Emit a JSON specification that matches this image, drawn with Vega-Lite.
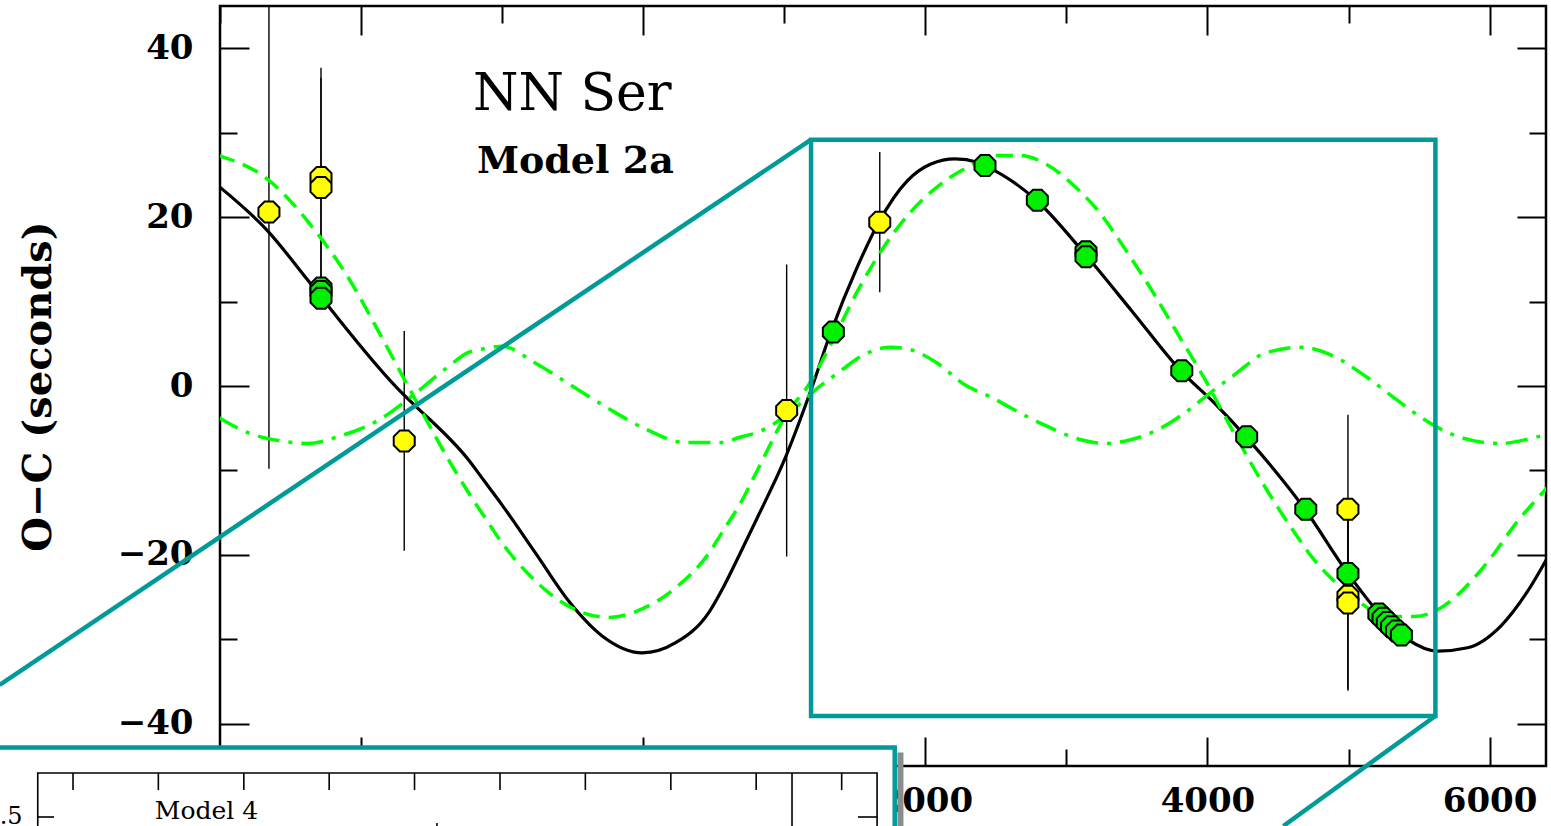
{
  "$schema": "https://vega.github.io/schema/vega-lite/v6.json",
  "width": 1326,
  "height": 760,
  "autosize": {"type": "none"},
  "padding": {"left": 220, "top": 6, "right": 5, "bottom": 60},
  "background": "white",
  "view": {"stroke": "black", "strokeWidth": 2.5, "fill": "white"},
  "config": {"axis": {"grid": false, "domain": false}},
  "datasets": {
    "black": [
      {"x": -3012, "y": 23.7}, {"x": -2664, "y": 18.4}, {"x": -2381, "y": 12.6},
      {"x": -2230, "y": 9.4}, {"x": -1700, "y": -1.0}, {"x": -1625, "y": -2.2}, {"x": -1236, "y": -8.8},
      {"x": -1129, "y": -11.2}, {"x": -1000, "y": -14.1}, {"x": -763, "y": -19.8}, {"x": -527, "y": -25.5},
      {"x": -291, "y": -29.6}, {"x": -7, "y": -31.6}, {"x": 230, "y": -30.4}, {"x": 466, "y": -26.8},
      {"x": 572, "y": -23.7}, {"x": 679, "y": -20.1}, {"x": 809, "y": -15.6}, {"x": 1010, "y": -8.4},
      {"x": 1187, "y": -0.6}, {"x": 1329, "y": 6.3}, {"x": 1518, "y": 14.1}, {"x": 1670, "y": 19.4},
      {"x": 1872, "y": 24.3}, {"x": 2040, "y": 26.3}, {"x": 2211, "y": 26.9}, {"x": 2369, "y": 26.5}, {"x": 2423, "y": 26.1},
      {"x": 2787, "y": 22.0}, {"x": 3133, "y": 15.6}, {"x": 3468, "y": 8.8}, {"x": 3811, "y": 1.8},
      {"x": 4036, "y": -1.8}, {"x": 4272, "y": -6.0}, {"x": 4691, "y": -14.6}, {"x": 4996, "y": -22.2},
      {"x": 5206, "y": -26.7}, {"x": 5419, "y": -30.0}, {"x": 5632, "y": -31.4}, {"x": 5844, "y": -31.0},
      {"x": 6081, "y": -28.4}, {"x": 6270, "y": -24.3}, {"x": 6411, "y": -20.3}
    ],
    "dashed": [
      {"x": -3012, "y": 27.3}, {"x": -2664, "y": 24.5}, {"x": -2335, "y": 18.6}, {"x": -2097, "y": 13.0},
      {"x": -1861, "y": 6.0}, {"x": -1700, "y": 1.0}, {"x": -1577, "y": -2.8}, {"x": -1342, "y": -9.8},
      {"x": -1213, "y": -13.3}, {"x": -1129, "y": -15.4}, {"x": -1000, "y": -18.6}, {"x": -763, "y": -23.1},
      {"x": -527, "y": -26.1}, {"x": -243, "y": -27.4}, {"x": -7, "y": -26.4}, {"x": 230, "y": -23.9},
      {"x": 466, "y": -19.8}, {"x": 572, "y": -17.0}, {"x": 679, "y": -14.2}, {"x": 809, "y": -10.0},
      {"x": 1010, "y": -3.5}, {"x": 1187, "y": 0.5}, {"x": 1329, "y": 4.9}, {"x": 1518, "y": 11.2},
      {"x": 1707, "y": 16.5}, {"x": 1896, "y": 20.6}, {"x": 2109, "y": 23.9}, {"x": 2369, "y": 26.5},
      {"x": 2477, "y": 27.3}, {"x": 2665, "y": 27.3}, {"x": 2854, "y": 26.3}, {"x": 3043, "y": 23.9},
      {"x": 3232, "y": 20.6}, {"x": 3421, "y": 16.1}, {"x": 3610, "y": 11.2}, {"x": 3799, "y": 5.9},
      {"x": 3989, "y": 0.6}, {"x": 4130, "y": -3.8}, {"x": 4237, "y": -7.0}, {"x": 4331, "y": -9.8},
      {"x": 4473, "y": -13.7}, {"x": 4615, "y": -17.3}, {"x": 4757, "y": -20.6}, {"x": 4898, "y": -23.1},
      {"x": 5040, "y": -25.1}, {"x": 5182, "y": -26.7}, {"x": 5324, "y": -27.3}, {"x": 5466, "y": -27.3},
      {"x": 5608, "y": -26.7}, {"x": 5750, "y": -25.1}, {"x": 5892, "y": -22.7}, {"x": 6034, "y": -19.8},
      {"x": 6176, "y": -16.5}, {"x": 6318, "y": -13.7}, {"x": 6411, "y": -12.0}
    ],
    "dashdot": [
      {"x": -3012, "y": -3.7}, {"x": -2806, "y": -5.5}, {"x": -2570, "y": -6.5}, {"x": -2381, "y": -6.8},
      {"x": -2144, "y": -5.9}, {"x": -1861, "y": -3.9}, {"x": -1625, "y": -1.0}, {"x": -1389, "y": 2.2},
      {"x": -1236, "y": 4.0}, {"x": -1129, "y": 4.4}, {"x": -1000, "y": 4.7}, {"x": -763, "y": 2.7},
      {"x": -503, "y": 0.0}, {"x": -243, "y": -2.7}, {"x": 17, "y": -5.1}, {"x": 301, "y": -6.7},
      {"x": 560, "y": -6.7}, {"x": 679, "y": -6.1}, {"x": 809, "y": -5.5}, {"x": 1045, "y": -3.1},
      {"x": 1211, "y": -0.6}, {"x": 1400, "y": 1.8}, {"x": 1565, "y": 3.7}, {"x": 1755, "y": 4.6},
      {"x": 1896, "y": 4.3}, {"x": 2085, "y": 2.7}, {"x": 2274, "y": 0.2}, {"x": 2487, "y": -1.5},
      {"x": 2617, "y": -2.7}, {"x": 2854, "y": -4.7}, {"x": 3090, "y": -6.3}, {"x": 3280, "y": -6.8},
      {"x": 3468, "y": -6.3}, {"x": 3657, "y": -5.1}, {"x": 3847, "y": -3.1}, {"x": 4036, "y": -0.6},
      {"x": 4189, "y": 1.3}, {"x": 4296, "y": 2.7}, {"x": 4380, "y": 3.7}, {"x": 4664, "y": 4.6},
      {"x": 4898, "y": 3.5}, {"x": 5134, "y": 1.0}, {"x": 5324, "y": -1.4}, {"x": 5513, "y": -3.7},
      {"x": 5702, "y": -5.5}, {"x": 5892, "y": -6.5}, {"x": 6081, "y": -6.8}, {"x": 6270, "y": -6.3},
      {"x": 6411, "y": -5.7}
    ],
    "yellow": [
      {"x": -2653, "y": 20.6, "lo": -9.8, "hi": 51.0},
      {"x": -2284, "y": 24.7, "lo": 11.7, "hi": 37.7},
      {"x": -2284, "y": 23.5, "lo": 10.5, "hi": 36.5},
      {"x": -1694, "y": -6.5, "lo": -19.5, "hi": 6.5},
      {"x": 1017, "y": -2.9, "lo": -20.2, "hi": 14.4},
      {"x": 1677, "y": 19.4, "lo": 11.1, "hi": 27.7},
      {"x": 4996, "y": -14.6, "lo": -25.8, "hi": -3.4},
      {"x": 4996, "y": -24.9, "lo": -35.9, "hi": -13.9},
      {"x": 4996, "y": -25.7, "lo": -36.1, "hi": -15.3}
    ],
    "green": [
      {"x": -2284, "y": 11.6}, {"x": -2284, "y": 11.2}, {"x": -2284, "y": 10.4},
      {"x": 1348, "y": 6.4}, {"x": 2423, "y": 26.1}, {"x": 2794, "y": 22.0},
      {"x": 3139, "y": 15.9}, {"x": 3139, "y": 15.3}, {"x": 3818, "y": 1.8},
      {"x": 4278, "y": -6.0}, {"x": 4697, "y": -14.6}, {"x": 4996, "y": -22.2},
      {"x": 5215, "y": -27.0}, {"x": 5245, "y": -27.5}, {"x": 5275, "y": -28.0},
      {"x": 5305, "y": -28.5}, {"x": 5340, "y": -29.0}, {"x": 5375, "y": -29.5}
    ],
    "tealBox": [{"x": 1190, "x2": 5616, "y": 29.17, "y2": -39.08}],
    "tealLines": [
      {"x": 1190, "y": 29.17, "x2": -4562, "y2": -35.4},
      {"x": 5616, "y": -39.08, "x2": 4538, "y2": -52.1}
    ],
    "insetBox": [{"x": -4700, "x2": 1783, "y": -42.8, "y2": -57}],
    "insetShadow": [{"x": 1802, "x2": 1845, "y": -43.4, "y2": -57}],
    "insetFrame": [{"x": -4292, "x2": 1658, "y": -45.83, "y2": -58}],
    "insetRules": [
      {"x": -4042, "x2": -4042, "y": -45.83, "y2": -47.85},
      {"x": -3437, "x2": -3437, "y": -45.83, "y2": -47.85},
      {"x": -2831, "x2": -2831, "y": -45.83, "y2": -47.85},
      {"x": -2226, "x2": -2226, "y": -45.83, "y2": -47.85},
      {"x": -1621, "x2": -1621, "y": -45.83, "y2": -47.85},
      {"x": -1015, "x2": -1015, "y": -45.83, "y2": -47.85},
      {"x": -410, "x2": -410, "y": -45.83, "y2": -47.85},
      {"x": 196, "x2": 196, "y": -45.83, "y2": -47.85},
      {"x": 801, "x2": 801, "y": -45.83, "y2": -47.85},
      {"x": 1407, "x2": 1407, "y": -45.83, "y2": -47.85},
      {"x": 1055, "x2": 1055, "y": -45.83, "y2": -57},
      {"x": -1462, "x2": -1462, "y": -51.75, "y2": -53},
      {"x": -4292, "x2": -4176, "y": -51.04, "y2": -51.04},
      {"x": 1522, "x2": 1658, "y": -51.04, "y2": -51.04}
    ]
  },
  "layer": [
    {
      "mark": {"type": "rule", "color": "black", "strokeWidth": 2, "strokeDash": [4, 8]},
      "encoding": {
        "y": {"datum": 0, "type": "quantitative", "scale": {"domain": [-45, 45], "nice": false, "zero": false}, "axis": null}
      }
    },
    {
      "data": {"name": "yellow"},
      "mark": {"type": "rule", "color": "black", "strokeWidth": 1.4, "clip": true},
      "encoding": {
        "x": {"field": "x", "type": "quantitative", "scale": {"domain": [-3000, 6400], "nice": false, "zero": false},
          "axis": {"orient": "bottom", "values": [-2000, 0, 2000, 4000, 6000], "ticks": false, "tickSize": 0, "domain": false,
            "labelFont": "DejaVu Serif", "labelFontSize": 34, "labelFontWeight": "bold", "labelColor": "black", "labelPadding": 18,
            "labelFlush": false, "labelOverlap": false, "labelBound": false, "format": "d", "title": null}},
        "y": {"field": "lo", "type": "quantitative", "scale": {"domain": [-45, 45], "nice": false, "zero": false},
          "axis": {"orient": "left", "values": [-40, -20, 0, 20, 40], "ticks": false, "tickSize": 0, "domain": false,
            "labelFont": "DejaVu Serif", "labelFontSize": 34, "labelFontWeight": "bold", "labelColor": "black", "labelPadding": 27,
            "labelFlush": false, "labelOverlap": false, "labelBound": false, "format": "d",
            "title": "O−C (seconds)", "titleFont": "DejaVu Serif", "titleFontSize": 40, "titleFontWeight": "bold",
            "titleColor": "black", "titlePadding": 59}},
        "y2": {"field": "hi"}
      }
    },
    {
      "data": {"name": "black"},
      "mark": {"type": "line", "color": "black", "strokeWidth": 3.2, "interpolate": "monotone", "clip": true},
      "encoding": {
        "x": {"field": "x", "type": "quantitative", "scale": {"domain": [-3000, 6400], "nice": false, "zero": false},
          "axis": {"orient": "bottom", "values": [-2000, 0, 2000, 4000, 6000], "labels": false, "domain": false,
            "tickSize": -29, "tickWidth": 2, "tickColor": "black", "title": null}},
        "y": {"field": "y", "type": "quantitative", "scale": {"domain": [-45, 45], "nice": false, "zero": false},
          "axis": {"orient": "left", "values": [-40, -20, 0, 20, 40], "labels": false, "domain": false,
            "tickSize": -29, "tickWidth": 2, "tickColor": "black", "title": null}}
      }
    },
    {
      "data": {"name": "dashed"},
      "mark": {"type": "line", "color": "#00ff00", "strokeWidth": 3.5, "strokeDash": [17, 9], "interpolate": "monotone", "clip": true},
      "encoding": {
        "x": {"field": "x", "type": "quantitative", "scale": {"domain": [-3000, 6400], "nice": false, "zero": false},
          "axis": {"orient": "bottom", "values": [-3000, -1000, 1000, 3000, 5000], "labels": false, "domain": false,
            "tickSize": -17, "tickWidth": 2, "tickColor": "black", "title": null}},
        "y": {"field": "y", "type": "quantitative", "scale": {"domain": [-45, 45], "nice": false, "zero": false},
          "axis": {"orient": "left", "values": [-30, -10, 10, 30], "labels": false, "domain": false,
            "tickSize": -17, "tickWidth": 2, "tickColor": "black", "title": null}}
      }
    },
    {
      "data": {"name": "dashdot"},
      "mark": {"type": "line", "color": "#00ff00", "strokeWidth": 3.5, "strokeDash": [22, 9, 4, 9], "interpolate": "monotone", "clip": true},
      "encoding": {
        "x": {"field": "x", "type": "quantitative", "scale": {"domain": [-3000, 6400], "nice": false, "zero": false},
          "axis": {"orient": "top", "values": [-2000, 0, 2000, 4000, 6000], "labels": false, "domain": false,
            "tickSize": -29, "tickWidth": 2, "tickColor": "black", "title": null}},
        "y": {"field": "y", "type": "quantitative", "scale": {"domain": [-45, 45], "nice": false, "zero": false},
          "axis": {"orient": "right", "values": [-40, -20, 0, 20, 40], "labels": false, "domain": false,
            "tickSize": -29, "tickWidth": 2, "tickColor": "black", "title": null}}
      }
    },
    {
      "data": {"name": "green"},
      "mark": {"type": "point", "shape": "M-0.414,-1L0.414,-1L1,-0.414L1,0.414L0.414,1L-0.414,1L-1,0.414L-1,-0.414Z",
        "size": 441, "filled": true, "fill": "#00f000", "stroke": "black", "strokeWidth": 2, "opacity": 1, "fillOpacity": 1},
      "encoding": {
        "x": {"field": "x", "type": "quantitative", "scale": {"domain": [-3000, 6400], "nice": false, "zero": false},
          "axis": {"orient": "top", "values": [-3000, -1000, 1000, 3000, 5000], "labels": false, "domain": false,
            "tickSize": -17, "tickWidth": 2, "tickColor": "black", "title": null}},
        "y": {"field": "y", "type": "quantitative", "scale": {"domain": [-45, 45], "nice": false, "zero": false},
          "axis": {"orient": "right", "values": [-30, -10, 10, 30], "labels": false, "domain": false,
            "tickSize": -17, "tickWidth": 2, "tickColor": "black", "title": null}}
      }
    },
    {
      "data": {"name": "yellow"},
      "mark": {"type": "point", "shape": "M-0.414,-1L0.414,-1L1,-0.414L1,0.414L0.414,1L-0.414,1L-1,0.414L-1,-0.414Z",
        "size": 441, "filled": true, "fill": "#ffff00", "stroke": "black", "strokeWidth": 2, "opacity": 1, "fillOpacity": 1},
      "encoding": {
        "x": {"field": "x", "type": "quantitative", "scale": {"domain": [-3000, 6400], "nice": false, "zero": false}, "axis": null},
        "y": {"field": "y", "type": "quantitative", "scale": {"domain": [-45, 45], "nice": false, "zero": false}, "axis": null}
      }
    },
    {
      "data": {"name": "tealBox"},
      "mark": {"type": "rect", "filled": false, "fillOpacity": 0, "stroke": "#009b98", "strokeWidth": 4.5, "clip": false},
      "encoding": {
        "x": {"field": "x", "type": "quantitative", "scale": {"domain": [-3000, 6400], "nice": false, "zero": false}, "axis": null},
        "x2": {"field": "x2"},
        "y": {"field": "y", "type": "quantitative", "scale": {"domain": [-45, 45], "nice": false, "zero": false}, "axis": null},
        "y2": {"field": "y2"}
      }
    },
    {
      "data": {"name": "tealLines"},
      "mark": {"type": "rule", "color": "#009b98", "strokeWidth": 4.5, "clip": false},
      "encoding": {
        "x": {"field": "x", "type": "quantitative", "scale": {"domain": [-3000, 6400], "nice": false, "zero": false}, "axis": null},
        "x2": {"field": "x2"},
        "y": {"field": "y", "type": "quantitative", "scale": {"domain": [-45, 45], "nice": false, "zero": false}, "axis": null},
        "y2": {"field": "y2"}
      }
    },
    {
      "data": {"values": [{"t": "NN  Ser", "x": -1207, "y": 32.69}]},
      "mark": {"type": "text", "font": "DejaVu Serif", "fontSize": 52, "align": "left", "baseline": "alphabetic", "color": "black", "clip": false},
      "encoding": {
        "text": {"field": "t", "type": "nominal"},
        "x": {"field": "x", "type": "quantitative", "scale": {"domain": [-3000, 6400], "nice": false, "zero": false}, "axis": null},
        "y": {"field": "y", "type": "quantitative", "scale": {"domain": [-45, 45], "nice": false, "zero": false}, "axis": null}
      }
    },
    {
      "data": {"values": [{"t": "Model 2a", "x": -1179, "y": 25.22}]},
      "mark": {"type": "text", "font": "DejaVu Serif", "fontSize": 38, "fontWeight": "bold", "align": "left", "baseline": "alphabetic", "color": "black", "clip": false},
      "encoding": {
        "text": {"field": "t", "type": "nominal"},
        "x": {"field": "x", "type": "quantitative", "scale": {"domain": [-3000, 6400], "nice": false, "zero": false}, "axis": null},
        "y": {"field": "y", "type": "quantitative", "scale": {"domain": [-45, 45], "nice": false, "zero": false}, "axis": null}
      }
    },
    {
      "data": {"name": "insetShadow"},
      "mark": {"type": "rect", "fill": "#8c8c8c", "clip": false},
      "encoding": {
        "x": {"field": "x", "type": "quantitative", "scale": {"domain": [-3000, 6400], "nice": false, "zero": false}, "axis": null},
        "x2": {"field": "x2"},
        "y": {"field": "y", "type": "quantitative", "scale": {"domain": [-45, 45], "nice": false, "zero": false}, "axis": null},
        "y2": {"field": "y2"}
      }
    },
    {
      "data": {"name": "insetBox"},
      "mark": {"type": "rect", "fill": "white", "stroke": "#009b98", "strokeWidth": 4.5, "clip": false},
      "encoding": {
        "x": {"field": "x", "type": "quantitative", "scale": {"domain": [-3000, 6400], "nice": false, "zero": false}, "axis": null},
        "x2": {"field": "x2"},
        "y": {"field": "y", "type": "quantitative", "scale": {"domain": [-45, 45], "nice": false, "zero": false}, "axis": null},
        "y2": {"field": "y2"}
      }
    },
    {
      "data": {"name": "insetFrame"},
      "mark": {"type": "rect", "filled": false, "fillOpacity": 0, "stroke": "black", "strokeWidth": 1.6, "clip": false},
      "encoding": {
        "x": {"field": "x", "type": "quantitative", "scale": {"domain": [-3000, 6400], "nice": false, "zero": false}, "axis": null},
        "x2": {"field": "x2"},
        "y": {"field": "y", "type": "quantitative", "scale": {"domain": [-45, 45], "nice": false, "zero": false}, "axis": null},
        "y2": {"field": "y2"}
      }
    },
    {
      "data": {"name": "insetRules"},
      "mark": {"type": "rule", "color": "black", "strokeWidth": 1.6, "clip": false},
      "encoding": {
        "x": {"field": "x", "type": "quantitative", "scale": {"domain": [-3000, 6400], "nice": false, "zero": false}, "axis": null},
        "x2": {"field": "x2"},
        "y": {"field": "y", "type": "quantitative", "scale": {"domain": [-45, 45], "nice": false, "zero": false}, "axis": null},
        "y2": {"field": "y2"}
      }
    },
    {
      "data": {"values": [{"t": "Model  4", "x": -3462, "y": -51.3}]},
      "mark": {"type": "text", "font": "DejaVu Serif", "fontSize": 25, "align": "left", "baseline": "alphabetic", "color": "black", "clip": false},
      "encoding": {
        "text": {"field": "t", "type": "nominal"},
        "x": {"field": "x", "type": "quantitative", "scale": {"domain": [-3000, 6400], "nice": false, "zero": false}, "axis": null},
        "y": {"field": "y", "type": "quantitative", "scale": {"domain": [-45, 45], "nice": false, "zero": false}, "axis": null}
      }
    },
    {
      "data": {"values": [{"t": ".5", "x": -4399, "y": -51.04}]},
      "mark": {"type": "text", "font": "DejaVu Serif", "fontSize": 24, "align": "right", "baseline": "middle", "color": "black", "clip": false},
      "encoding": {
        "text": {"field": "t", "type": "nominal"},
        "x": {"field": "x", "type": "quantitative", "scale": {"domain": [-3000, 6400], "nice": false, "zero": false}, "axis": null},
        "y": {"field": "y", "type": "quantitative", "scale": {"domain": [-45, 45], "nice": false, "zero": false}, "axis": null}
      }
    }
  ],
  "resolve": {"axis": {"x": "independent", "y": "independent"}}
}
